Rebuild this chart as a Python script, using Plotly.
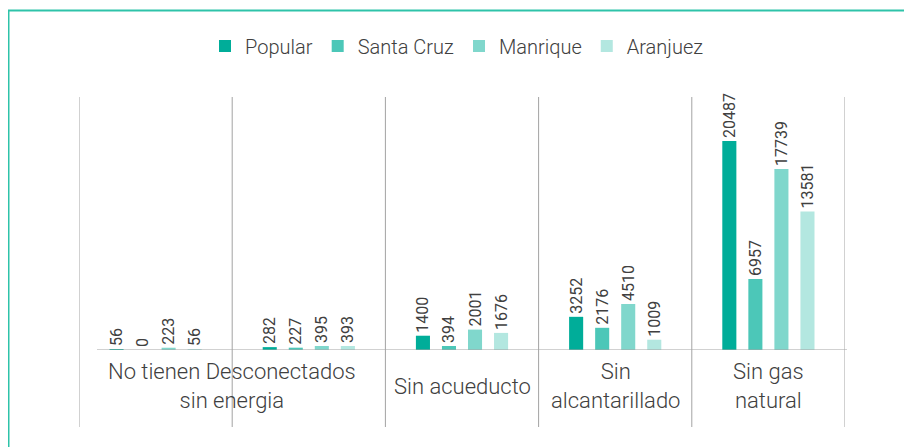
import plotly.graph_objects as go

# ---- data ----
categories = ["No tienen", "Desconectados", "Sin acueducto", "Sin alcantarillado", "Sin gas natural"]
series_names = ["Popular", "Santa Cruz", "Manrique", "Aranjuez"]
popular = [56, 282, 1400, 3252, 20487]
santa_cruz = [0, 227, 394, 2176, 6957]
manrique = [223, 395, 2001, 4510, 17739]
aranjuez = [56, 393, 1676, 1009, 13581]
label_texts = ["No tienen Desconectados<br>sin energia", "Sin acueducto", "Sin<br>alcantarillado", "Sin gas<br>natural"]
label_positions = [0.5, 2, 3, 4]

values = [popular, santa_cruz, manrique, aranjuez]
colors = ["#00ad99", "#4cc7b8", "#80d7cc", "#b3e7e0"]

FONT = "Roboto"
TXT = "#404040"
GRID = "#a3a3a3"

# page body has an 8px margin; work in screen pixels and convert
OFF = 8
W, H = 912 - OFF, 447 - OFF
L, R_PX, TOP, BASE = 79, 845, 97, 350  # screen px of plot area


fig = go.Figure()
for name, vals, col in zip(series_names, values, colors):
    fig.add_trace(go.Bar(
        x=list(range(len(categories))), y=vals, name=name,
        marker=dict(color=col, line=dict(width=0)),
        text=[str(v) for v in vals], textposition="outside", textangle=-90,
        constraintext="none", cliponaxis=False,
        textfont=dict(family=FONT, size=16, color=TXT, weight=400),
        hovertext=categories,
    ))

pw = R_PX - L
ph = BASE - TOP


def px_x(p):
    return (p - L) / pw


def px_y(p):
    return (BASE - p) / ph


shapes = []
# outer teal frame
shapes.append(dict(type="rect", xref="paper", yref="paper",
                   x0=px_x(8.5), x1=px_x(960), y0=px_y(500), y1=px_y(10.5),
                   line=dict(color="#2ec3a9", width=2), fillcolor="rgba(0,0,0,0)", layer="below"))
# separators
for i in range(len(categories) + 1):
    xv = i - 0.5
    shapes.append(dict(type="line", xref="x", yref="paper", x0=xv, x1=xv,
                       y0=px_y(427), y1=1, line=dict(color=GRID, width=1)))
# baseline
shapes.append(dict(type="line", xref="paper", yref="y", x0=px_x(97), x1=px_x(847),
                   y0=0, y1=0, line=dict(color=GRID, width=1.2)))

annotations = []
for t, p in zip(label_texts, label_positions):
    annotations.append(dict(x=p, xref="x", y=px_y(386), yref="paper", text=t,
                            showarrow=False, xanchor="center", yanchor="middle",
                            font=dict(family=FONT, size=22, color=TXT, weight=300)))

fig.update_layout(
    width=W, height=H,
    margin=dict(l=L - OFF, r=W - (R_PX - OFF), t=TOP - OFF, b=H - (BASE - OFF), pad=0, autoexpand=False),
    paper_bgcolor="white", plot_bgcolor="white",
    barmode="group", bargap=0.32, bargroupgap=0.46,
    showlegend=True,
    legend=dict(orientation="h", x=px_x(457), xanchor="center", xref="paper",
                y=px_y(46), yanchor="middle",
                font=dict(family=FONT, size=20, color=TXT, weight=300),
                itemclick=False, traceorder="normal"),
    xaxis=dict(range=[-0.5, len(categories) - 0.5], showticklabels=False,
               showgrid=False, zeroline=False, showline=False, ticks=""),
    yaxis=dict(range=[0, 24800], showticklabels=False, showgrid=False,
               zeroline=False, showline=False, ticks=""),
    shapes=shapes, annotations=annotations,
)

fig.write_html("out.html")
